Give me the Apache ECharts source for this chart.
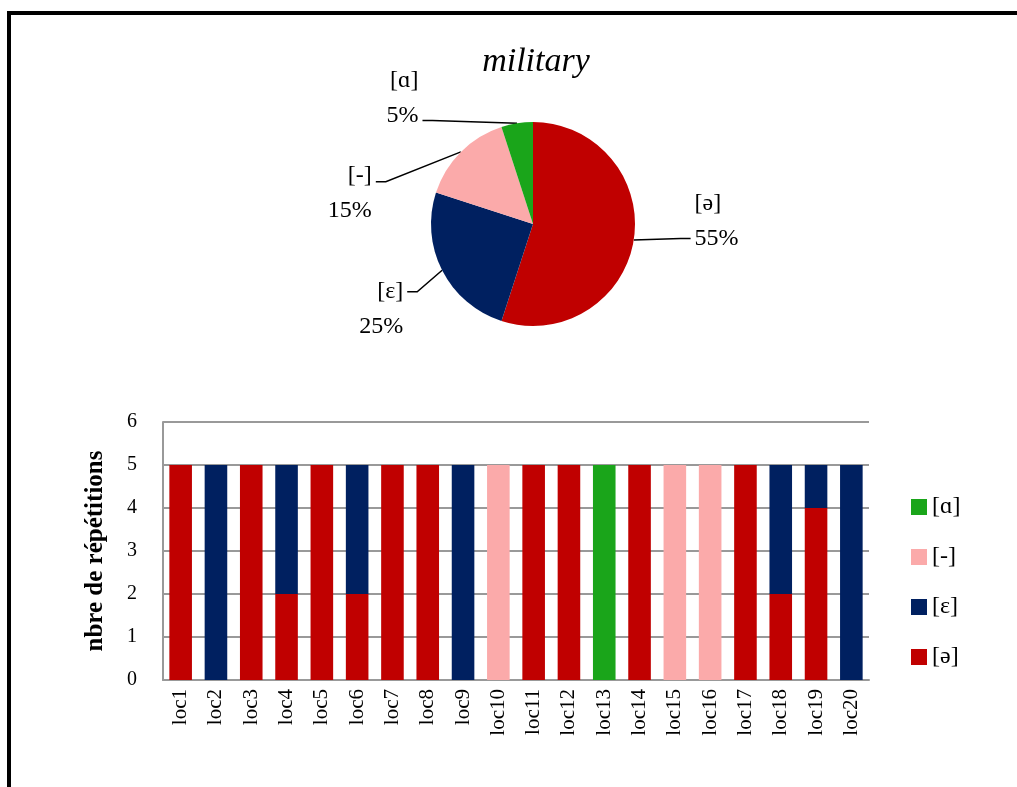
<!DOCTYPE html>
<html>
<head>
<meta charset="utf-8">
<script src="https://cdn.jsdelivr.net/npm/echarts@6/dist/echarts.min.js"></script>
<style>
  html, body { margin: 0; padding: 0; background: #fff; }
  #frame {
    position: absolute; left: 7px; top: 11px; width: 1010px; height: 776px;
    border-top: 4px solid #000; border-left: 4px solid #000;
  }
  #main { position: absolute; left: 0; top: 0; width: 1017px; height: 787px; }
</style>
</head>
<body>
<div id="frame"></div>
<div id="main"></div>
<script>
// données
const categories = ['loc1','loc2','loc3','loc4','loc5','loc6','loc7','loc8','loc9','loc10',
                    'loc11','loc12','loc13','loc14','loc15','loc16','loc17','loc18','loc19','loc20'];
const schwa   = [5,0,5,2,5,2,5,5,0,0,5,5,0,5,0,0,5,2,4,0];   // [ə]
const epsilon = [0,5,0,3,0,3,0,0,5,0,0,0,0,0,0,0,0,3,1,5];   // [ɛ]
const dash    = [0,0,0,0,0,0,0,0,0,5,0,0,0,0,5,5,0,0,0,0];   // [-]
const alpha   = [0,0,0,0,0,0,0,0,0,0,0,0,5,0,0,0,0,0,0,0];   // [ɑ]

const pieNames  = ['[ə]', '[ɛ]', '[-]', '[ɑ]'];
const pieValues = [55, 25, 15, 5];
const yTicks = [0, 1, 2, 3, 4, 5, 6];

const colors = { '[ə]': '#c00000', '[ɛ]': '#002060', '[-]': '#fbaaaa', '[ɑ]': '#1aa51a' };
// décalage des étiquettes du camembert (comme dans Excel) : dx, dy, ligne de rattachement
const labelShift = { '[ə]': [38, -20, 17], '[ɛ]': [-17, 34, -17], '[-]': [-69, 48, -11], '[ɑ]': [-84, -15, 22] };
const FONT = '"Liberation Serif", "DejaVu Serif", serif';

const chart = echarts.init(document.getElementById('main'));

const barSeries = [
  ['[ə]', schwa], ['[ɛ]', epsilon], ['[-]', dash], ['[ɑ]', alpha]
].map(([name, data]) => ({
  name: name,
  type: 'bar',
  stack: 'total',
  barWidth: '64%',
  itemStyle: { color: colors[name] },
  data: data
}));

function pieLabelLayout(p) {
  const s = labelShift[pieNames[p.dataIndex]];
  const r = p.labelRect;
  const start = p.labelLinePoints[0];
  const isLeft = r.x + r.width / 2 < start[0];
  const endX = isLeft ? r.x + s[0] + r.width + 4 : r.x + s[0] - 4;
  const endY = r.y + s[1] + r.height / 2 + s[2];
  const elbow = [endX + (isLeft ? 10 : -10), endY];
  return { dx: s[0], dy: s[1], labelLinePoints: [start, elbow, [endX, endY]] };
}

const option = {
  animation: false,
  textStyle: { fontFamily: FONT, color: '#000' },
  title: {
    text: 'military',
    left: 531, top: 40,
    textAlign: 'center',
    textStyle: { fontFamily: FONT, fontStyle: 'italic', fontWeight: 'normal', fontSize: 34, color: '#000' }
  },
  legend: {
    orient: 'vertical',
    left: 906, top: 490,
    itemWidth: 16, itemHeight: 16,
    itemGap: 26,
    icon: 'rect',
    data: ['[ɑ]', '[-]', '[ɛ]', '[ə]'],
    textStyle: { fontFamily: FONT, fontSize: 24, color: '#000' }
  },
  grid: { left: 163, right: 148, top: 422, bottom: 107 },
  xAxis: {
    type: 'category',
    data: categories,
    axisLine: { lineStyle: { color: '#999', width: 2 } },
    axisTick: { show: false },
    axisLabel: { rotate: 90, fontSize: 21, color: '#000', fontFamily: FONT, margin: 9, interval: 0 }
  },
  yAxis: {
    type: 'value',
    min: yTicks[0], max: yTicks[yTicks.length - 1], interval: 1,
    name: 'nbre de répétitions',
    nameLocation: 'middle',
    nameGap: 55,
    nameTextStyle: { fontFamily: FONT, fontWeight: 'bold', fontSize: 25, color: '#000' },
    axisLine: { show: true, lineStyle: { color: '#999', width: 2 } },
    axisTick: { show: false },
    axisLabel: { fontSize: 20, color: '#000', fontFamily: FONT, margin: 26 },
    splitLine: { lineStyle: { color: '#999', width: 2 } }
  },
  series: [
    ...barSeries,
    {
      type: 'pie',
      center: [533, 224],
      radius: 102,
      startAngle: 90,
      clockwise: true,
      avoidLabelOverlap: false,
      legendHoverLink: false,
      data: pieNames.map((n, i) => ({
        name: n, value: pieValues[i],
        itemStyle: { color: colors[n] }
      })),
      label: {
        formatter: p => p.name + '\n' + p.value + '%',
        fontFamily: FONT, fontSize: 24, color: '#000', lineHeight: 35, distanceToLabelLine: 3
      },
      labelLine: { length: 10, length2: 10, lineStyle: { color: '#000', width: 1.5 } },
      labelLayout: pieLabelLayout
    }
  ]
};

chart.setOption(option);
window.addEventListener('resize', () => chart.resize());
</script>
</body>
</html>
